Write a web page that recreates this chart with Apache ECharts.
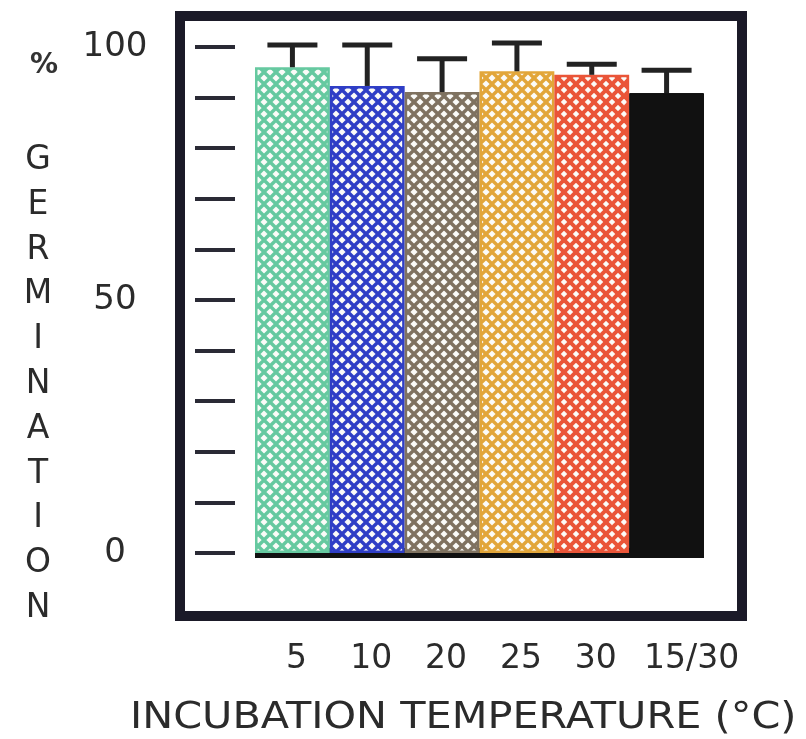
<!DOCTYPE html>
<html>
<head>
<meta charset="utf-8">
<script src="https://cdn.jsdelivr.net/npm/echarts@6/dist/echarts.min.js"></script>
<style>html,body{margin:0;padding:0;background:#fff;}#c{width:806px;height:739px;}</style>
</head>
<body>
<div id="c"></div>
<script>
const categories = ["5", "10", "20", "25", "30", "15/30"];
const germination = [96, 92.3, 91.1, 95.2, 94.5, 90.9];
const errorUpper = [100.4, 100.4, 97.7, 100.8, 96.6, 95.4];
const yTickLabels = [0, 50, 100];
const barColors = ["#66c9a0", "#2f3ec6", "#7f7260", "#e2a63a", "#ea5538", "#111111"];

function makePattern(color, lw) {
  const s = 12;
  const c = document.createElement('canvas');
  c.width = s; c.height = s;
  const ctx = c.getContext('2d');
  ctx.fillStyle = '#fbfbf8';
  ctx.fillRect(0, 0, s, s);
  ctx.strokeStyle = color;
  ctx.lineWidth = lw;
  for (let k = -s; k <= s; k += s) {
    ctx.beginPath(); ctx.moveTo(k, 0); ctx.lineTo(k + s, s); ctx.stroke();
    ctx.beginPath(); ctx.moveTo(k, s); ctx.lineTo(k + s, 0); ctx.stroke();
  }
  return { image: c, repeat: 'repeat' };
}

const chart = echarts.init(document.getElementById('c'), null, { renderer: 'canvas' });
const barData = germination.map((v, i) => ({
  value: v,
  itemStyle: i === 5 ? { color: barColors[i], borderColor: barColors[i], borderWidth: 1 }
    : { color: makePattern(barColors[i], i === 4 ? 4 : 3.4), borderColor: barColors[i], borderWidth: 2.5 }
}));
const errData = germination.map((v, i) => [i, v, errorUpper[i]]);

chart.setOption({
  backgroundColor: '#ffffff',
  animation: false,
  grid: { left: 255, right: 102, top: 47, bottom: 186, containLabel: false },
  xAxis: {
    type: 'category',
    data: categories,
    axisLine: { lineStyle: { color: '#111', width: 10, cap: 'butt' } },
    axisTick: { show: false },
    axisLabel: {
      interval: 0,
      hideOverlap: false,
      margin: 90,
      fontFamily: 'DejaVu Sans',
      fontSize: 33,
      color: '#2b2b2b',
      formatter: function (v) { return v === '15/30' ? '{s|' + v + '}' : '{n|' + v + '}'; },
      rich: {
        s: { fontFamily: 'DejaVu Sans', fontSize: 33, color: '#2b2b2b', padding: [0, 0, 0, 50] },
        n: { fontFamily: 'DejaVu Sans', fontSize: 33, color: '#2b2b2b', padding: [0, 0, 0, 8] }
      }
    }
  },
  yAxis: {
    type: 'value',
    min: 0, max: 100, interval: 10,
    offset: 60,
    axisLine: { show: false },
    axisTick: { show: true, inside: true, length: 40, lineStyle: { color: '#2a2a35', width: 4 } },
    splitLine: { show: false },
    axisLabel: {
      margin: 80,
      align: 'center',
      fontFamily: 'DejaVu Sans',
      fontSize: 34,
      color: '#2b2b2b',
      formatter: function (v) { return yTickLabels.indexOf(v) >= 0 ? String(v) : ''; }
    }
  },
  graphic: [
    { type: 'rect', shape: { x: 180, y: 16, width: 562, height: 600 }, style: { fill: 'none', stroke: '#1b1a28', lineWidth: 10 }, z: 0 },
    { type: 'text', x: 30, y: 52, style: { text: '%', fontFamily: 'DejaVu Sans', fontSize: 28, fontWeight: 'bold', fill: '#333' } },
    { type: 'text', x: 38, y: 138, style: { text: 'G\nE\nR\nM\nI\nN\nA\nT\nI\nO\nN', fontFamily: 'DejaVu Sans', fontSize: 33, lineHeight: 44.8, align: 'center', fill: '#2b2b2b' } },
    { type: 'text', x: 130, y: 699, scaleX: 1.09, style: { text: 'INCUBATION TEMPERATURE (°C)', fontFamily: 'DejaVu Sans', fontSize: 38, fill: '#2b2b2b' } }
  ],
  series: [
    { type: 'bar', data: barData, barCategoryGap: 0, barWidth: '100%', z: 2 },
    {
      type: 'custom',
      z: 3,
      data: errData,
      renderItem: function (params, api) {
        const p0 = api.coord([api.value(0), api.value(1)]);
        const p1 = api.coord([api.value(0), api.value(2)]);
        const half = 25;
        const st = { stroke: '#222', lineWidth: 5 };
        return {
          type: 'group',
          children: [
            { type: 'line', shape: { x1: p0[0], y1: p0[1], x2: p1[0], y2: p1[1] }, style: st },
            { type: 'line', shape: { x1: p1[0] - half, y1: p1[1], x2: p1[0] + half, y2: p1[1] }, style: st }
          ]
        };
      }
    }
  ]
});
</script>
</body>
</html>
